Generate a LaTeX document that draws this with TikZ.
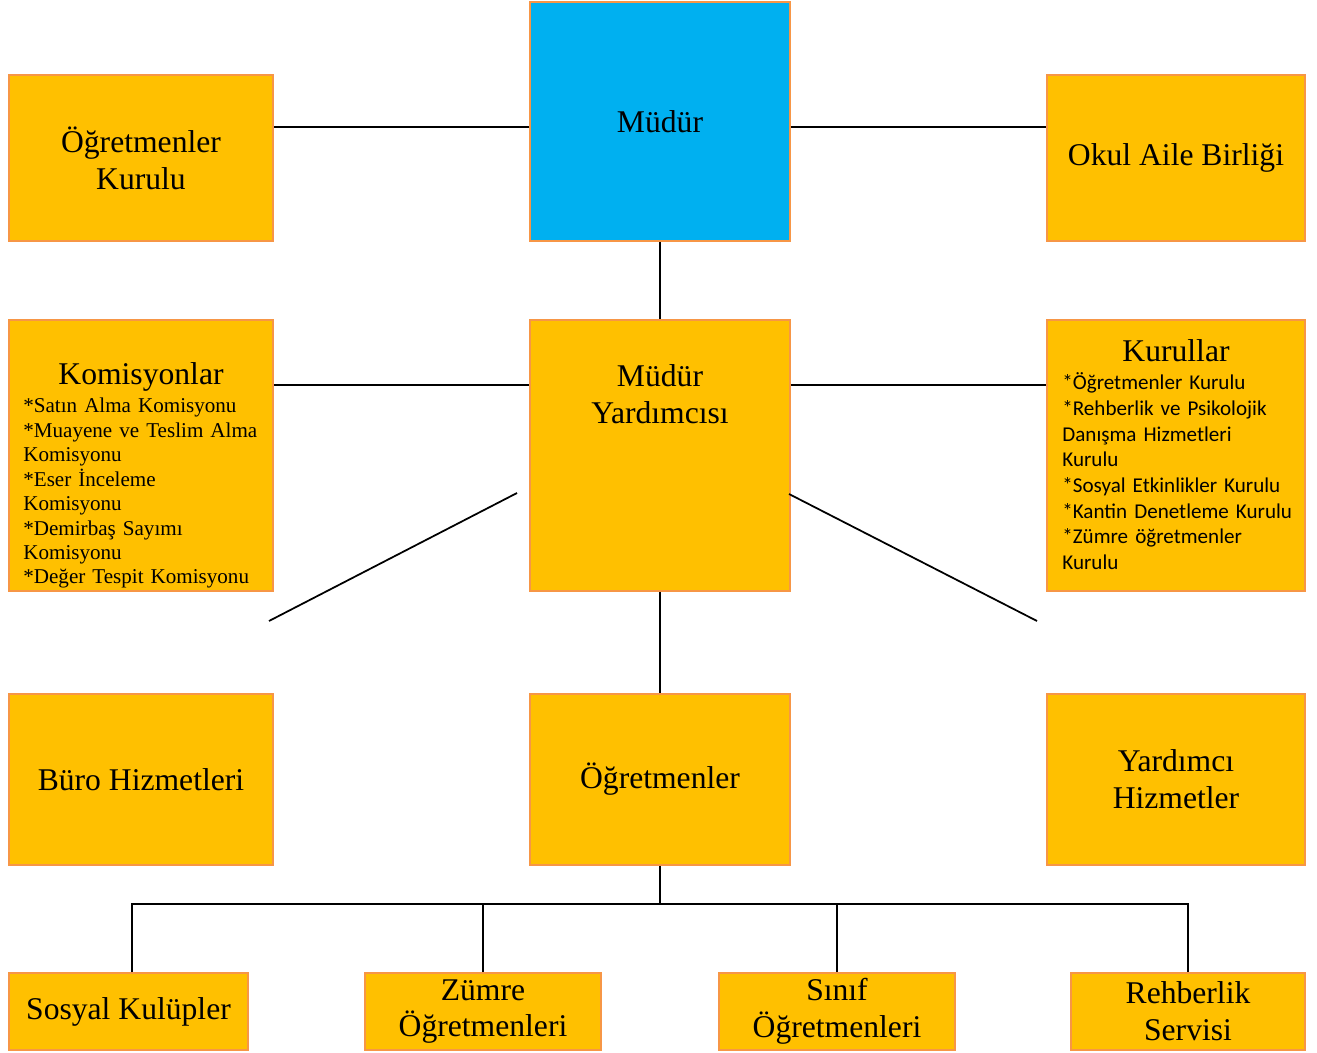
\documentclass[tikz,border=0pt]{standalone}
\usepackage{fontspec}
\setmainfont{Liberation Serif}
\newfontfamily\calibri{Carlito}
\usetikzlibrary{positioning}

\definecolor{boxfill}{HTML}{FFC000}
\definecolor{boxline}{HTML}{F79646}
\definecolor{headfill}{HTML}{00B0F0}

\tikzset{
    unit/.style={draw=boxline, fill=boxfill, line width=1.1pt, inner sep=0pt, align=center, font=\fontsize{18}{21}\selectfont},
    title/.style={inner sep=0pt, align=center, font=\fontsize{18}{21}\selectfont},
    listtext/.style={inner sep=0pt, text width=5cm, align=left, font=\fontsize{12}{13.9}\selectfont},
    link/.style={line width=1pt, black}
}

\begin{document}
\begin{tikzpicture}[x=0.02cm, y=-0.02cm]
    \useasboundingbox (0, 0) rectangle (1317, 1053);

    \node (mudur) at(660, 121.5) [unit, fill=headfill, minimum width=5.2cm, minimum height=4.78cm]{Müdür};
    \node (ogk) at(141, 158) [unit, minimum width=5.28cm, minimum height=3.32cm]{Öğretmenler\\Kurulu};
    \node (oab) at(1176, 158) [unit, minimum width=5.16cm, minimum height=3.32cm]{Okul Aile Birliği};

    \node (kom) at(141, 455.5) [unit, minimum width=5.28cm, minimum height=5.42cm]{};
    \node (myrd) at(660, 455.5) [unit, minimum width=5.2cm, minimum height=5.42cm]{};
    \node (kur) at(1176, 455.5) [unit, minimum width=5.16cm, minimum height=5.42cm]{};
    \node (myrdT) at(660, 394.5) [title]{Müdür\\Yardımcısı};
    \node (komT) at(141, 385) [title, anchor=base]{Komisyonlar};
    \node (komL) at(23, 413) [listtext, anchor=base west]{*Satın Alma Komisyonu\\{}*Muayene ve Teslim Alma\\Komisyonu\\{}*Eser İnceleme\\Komisyonu\\{}*Demirbaş Sayımı\\Komisyonu\\{}*Değer Tespit Komisyonu};
    \node (kurT) at(1176, 362) [title, anchor=base]{Kurullar};
    \node (kurL) at(1062, 390) [listtext, anchor=base west, font=\calibri\fontsize{12}{14.6}\selectfont]{*Öğretmenler Kurulu\\{}*Rehberlik ve Psikolojik\\Danışma Hizmetleri\\Kurulu\\{}*Sosyal Etkinlikler Kurulu\\{}*Kantin Denetleme Kurulu\\{}*Zümre öğretmenler\\Kurulu};

    \node (buro) at(141, 779.5) [unit, minimum width=5.28cm, minimum height=3.42cm]{Büro Hizmetleri};
    \node (ogr) at(660, 779.5) [unit, minimum width=5.2cm, minimum height=3.42cm]{Öğretmenler};
    \node (yrd) at(1176, 779.5) [unit, minimum width=5.16cm, minimum height=3.42cm]{Yardımcı\\Hizmetler};

    \node (sos) at(128.5, 1011.5) [unit, minimum width=4.78cm, minimum height=1.54cm]{Sosyal Kulüpler};
    \node (zum) at(483, 1011.5) [unit, minimum width=4.72cm, minimum height=1.54cm]{Zümre\\Öğretmenleri};
    \node (sin) at(837, 1011.5) [unit, minimum width=4.72cm, minimum height=1.54cm]{Sınıf\\Öğretmenleri};
    \node (reh) at(1188, 1011.5) [unit, minimum width=4.68cm, minimum height=1.54cm]{Rehberlik\\Servisi};

    \coordinate (top) at([yshift=-0.11cm]mudur.west);
    \draw[link] (top) -- (top -| ogk.east);
    \draw[link] (top -| mudur.east) -- (top -| oab.west);
    \draw[link] (mudur) -- (myrd);

    \coordinate (mid) at(660, 385);
    \draw[link] (kom.east |- mid) -- (myrd.west |- mid);
    \draw[link] (myrd.east |- mid) -- (kur.west |- mid);

    \coordinate (la) at(517, 493);
    \coordinate (lb) at(269, 621);
    \coordinate (ra) at(789, 494);
    \coordinate (rb) at(1037, 621);
    \draw[link] (la) -- (lb);
    \draw[link] (ra) -- (rb);

    \draw[link] (myrd) -- (ogr);
    \coordinate (bus) at([yshift=-0.76cm]ogr.south);
    \draw[link] (ogr) -- (bus);
    \draw[link] ([xshift=0.07cm]sos.north) |- (reh.north |- bus) -- (reh.north);
    \draw[link] (zum) -- (zum.north |- bus);
    \draw[link] (sin) -- (sin.north |- bus);
\end{tikzpicture}
\end{document}
